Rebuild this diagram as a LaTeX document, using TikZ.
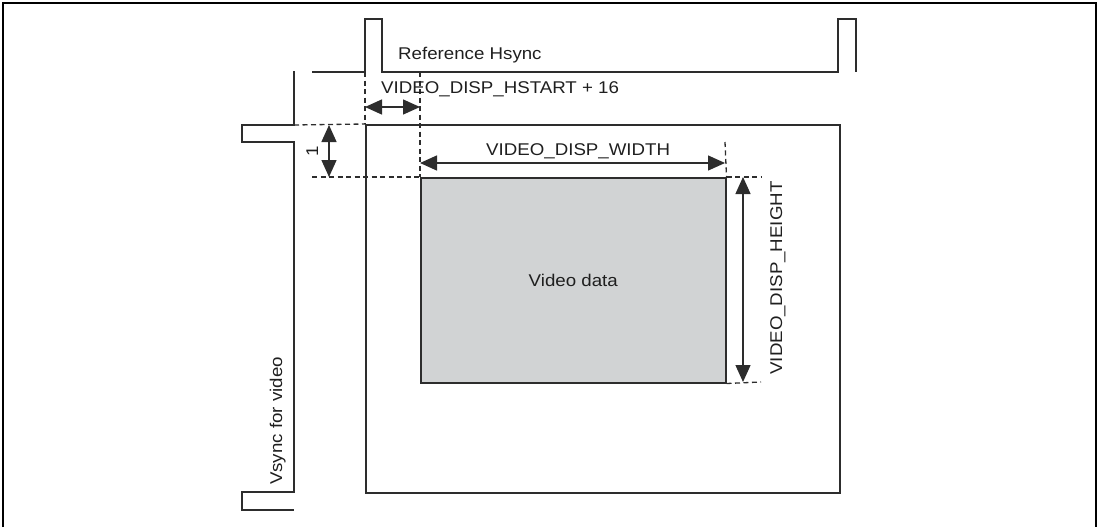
\documentclass[tikz,border=0pt]{standalone}
\usepackage{fontspec}
\setmainfont[FakeStretch=1.1]{Liberation Sans}
\usetikzlibrary{arrows.meta}
\definecolor{ln}{RGB}{45,45,45}
\definecolor{fillg}{RGB}{209,211,212}
\begin{document}
\begin{tikzpicture}[x=1pt,y=-1pt,
 sig/.style={draw=ln, line width=1.5pt, line join=miter},
 dsh/.style={draw=ln, line width=1.3pt, dash pattern=on 5pt off 3.5pt},
 dim/.style={draw=ln, line width=1.4pt, {Triangle[length=17pt,width=15pt]}-{Triangle[length=17pt,width=15pt]}},
 lbl/.style={font=\fontsize{17}{20}\selectfont, inner sep=0pt, text=black!88}]
\useasboundingbox (0,0) rectangle (1102,527);
\draw[line width=2.5pt] (3,527) -- (3,3) -- (1096,3) -- (1096,527);

% outer frame and video data area
\node[draw=ln, line width=1.5pt, minimum width=474pt, minimum height=368pt, anchor=north west, inner sep=0pt] (frame) at (365,124) {};
\node[fill=fillg, draw=ln, line width=1.5pt, minimum width=305pt, minimum height=205pt, anchor=north west, lbl] (data) at (420,177) {Video data};

% signals
\draw[sig] (312,72) -- (365,72) -- (365,19) -- (382,19) -- (382,72) -- (838,72) -- (838,19) -- (856,19) -- (856,72);
\draw[sig] (294,71) -- (294,125) -- (242,125) -- (242,142) -- (294,142) -- (294,492) -- (242,492) -- (242,510) -- (294,510);

% dashed guides
\coordinate (v1t) at (294,125);
\coordinate (h1) at (312,177);
\coordinate (hs1) at (365,72);
\coordinate (hs2) at (420,72);
\coordinate (wt) at (725,142);
\coordinate (ht) at (761,177);
\coordinate (hb) at (761,382);
\draw[dsh] (v1t) -- (frame.north west);
\draw[dsh] (h1) -- (data.north west);
\draw[dsh] (hs1) -- (frame.north west);
\draw[dsh] (hs2) -- (data.north west);
\draw[dsh] (wt) -- (data.north east);
\draw[dsh] (data.north east) -- (ht);
\draw[dsh] (data.south east) -- (hb);

% dimension arrows
\coordinate (a1t) at (329,125);
\coordinate (a1b) at (329,177);
\coordinate (a2l) at (365,107);
\coordinate (a2r) at (420,107);
\coordinate (a3l) at (420,163);
\coordinate (a3r) at (725,163);
\coordinate (a4t) at (743,177);
\coordinate (a4b) at (743,382);
\draw[dim] (a1t) -- (a1b);
\draw[dim] (a2l) -- (a2r);
\draw[dim] (a3l) -- (a3r);
\draw[dim] (a4t) -- (a4b);

% labels
\node[lbl, anchor=base west] (lref) at (398,59.5) {Reference Hsync};
\node[lbl, anchor=base west] (lhs) at (381,93) {VIDEO\_DISP\_HSTART + 16};
\node[lbl, anchor=base west] (lw) at (486,155) {VIDEO\_DISP\_WIDTH};
\node[lbl, anchor=base, rotate=90] (lone) at (318,151) {1};
\node[lbl, anchor=base, rotate=90] (lh) at (782,278) {VIDEO\_DISP\_HEIGHT};
\node[lbl, anchor=base, rotate=90] (lv) at (282,421) {Vsync for video};
\end{tikzpicture}
\end{document}
